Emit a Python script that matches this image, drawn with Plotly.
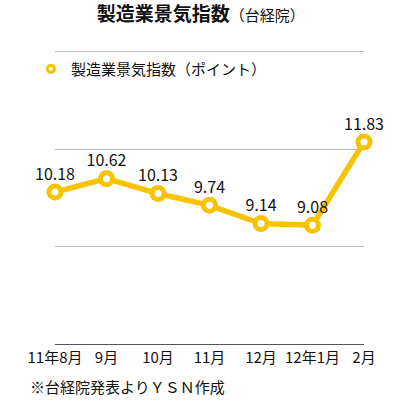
import plotly.graph_objects as go

categories = ["11年8月", "9月", "10月", "11月", "12月", "12年1月", "2月"]
values = [10.18, 10.62, 10.13, 9.74, 9.14, 9.08, 11.83]
value_labels = ["10.18", "10.62", "10.13", "9.74", "9.14", "9.08", "11.83"]
series_name = "製造業景気指数（ポイント）"

FONT = "Noto Sans CJK JP"
YELLOW = "#F7C300"

fig = go.Figure()
fig.add_trace(go.Scatter(
    x=list(range(len(categories))), y=values,
    mode="lines+markers+text",
    name=series_name,
    showlegend=False,
    text=value_labels,
    textposition="top center",
    textfont=dict(family=FONT, size=16, color="#111111"),
    line=dict(color=YELLOW, width=5.5),
    marker=dict(size=12, color="white", line=dict(color=YELLOW, width=5)),
    cliponaxis=False,
))
# legend entry (marker only, as in the reference legend)
fig.add_trace(go.Scatter(
    x=[None], y=[None], mode="markers", name=series_name,
    marker=dict(size=7, color="white", line=dict(color=YELLOW, width=3)),
    showlegend=True,
))

fig.update_layout(
    width=393, height=405,
    margin=dict(l=55, r=29, t=50, b=61, autoexpand=False),
    paper_bgcolor="white", plot_bgcolor="white",
    font=dict(family=FONT, color="#111111"),
    title=dict(
        text="<b>製造業景気指数</b><span style='font-size:15px'>（台経院）</span>",
        x=0.511, xanchor="center", y=0.9655, yanchor="middle",
        font=dict(family=FONT, size=19, color="#111111"),
    ),
    showlegend=True,
    legend=dict(
        x=-0.078, y=0.935, xanchor="left", yanchor="middle",
        bgcolor="rgba(0,0,0,0)",
        font=dict(family=FONT, size=15, color="#111111"),
        itemwidth=30,
    ),
    xaxis=dict(
        tickmode="array", tickvals=list(range(len(categories))), ticktext=categories,
        range=[0, 6], showgrid=False, zeroline=False,
        showline=True, linecolor="#555555", linewidth=1,
        ticks="", tickfont=dict(family=FONT, size=15, color="#111111"),
        automargin=False,
    ),
    yaxis=dict(
        range=[5.16, 14.87], tick0=5.16, dtick=3.22,
        showticklabels=False, showgrid=True, gridcolor="#BBBBBB", gridwidth=1,
        zeroline=False, showline=False, ticks="", automargin=False,
    ),
)

fig.add_annotation(
    text="※台経院発表よりＹＳＮ作成", xref="paper", yref="paper",
    x=-0.086, y=-0.146, xanchor="left", yanchor="middle", showarrow=False,
    font=dict(family=FONT, size=15, color="#111111"),
)

fig.write_html(
    "out.html",
    config={"displayModeBar": False},
    post_script="document.body.style.margin='0';document.body.style.overflow='hidden';",
)
